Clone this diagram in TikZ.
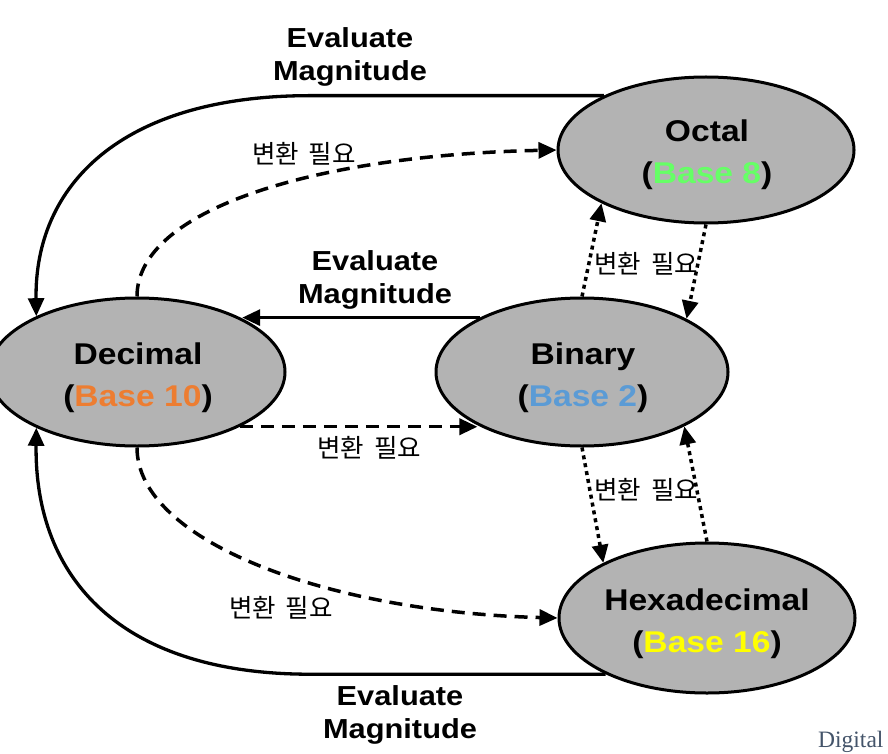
\documentclass[tikz,border=0pt]{standalone}
\usepackage{fontspec}
\setmainfont{Liberation Sans}
\newfontfamily\labfont{Liberation Sans}[FakeStretch=1.12]
\newfontfamily\krfont{Noto Sans CJK KR}
\newfontfamily\serfont{Liberation Serif}
\usetikzlibrary{shapes.geometric,arrows.meta}
\definecolor{ellfill}{HTML}{B3B3B3}
\definecolor{bten}{HTML}{ED7D31}
\definecolor{btwo}{HTML}{5B9BD5}
\definecolor{beight}{HTML}{66FF66}
\definecolor{bsixteen}{HTML}{FFFF00}
\definecolor{digc}{HTML}{44546A}
\newcommand{\krtext}{변환\hspace{10pt}필요}
\begin{document}
\begin{tikzpicture}[x=1pt,y=-1pt,
  basenode/.style={ellipse,draw=black,line width=3pt,fill=ellfill,inner sep=0pt},
  basetext/.style={align=center,inner sep=0pt,font=\labfont\bfseries\fontsize{30}{42}\selectfont},
  evlabel/.style={align=center,inner sep=0pt,font=\labfont\bfseries\fontsize{27.5}{33}\selectfont},
  krlabel/.style={inner sep=0pt,font=\krfont\fontsize{25.5}{30}\selectfont},
  conn/.style={line width=3.3pt,-{Triangle[length=18pt,width=16pt]}},
  dashconn/.style={conn,line width=3.5pt,dash pattern=on 13pt off 8pt},
  dotconn/.style={conn,line width=3.5pt,dash pattern=on 4pt off 4pt},
]
\useasboundingbox (0,0) rectangle (888,754);
\fill[white] (0,0) rectangle (888,754);

% ellipses
\node[basenode,minimum width=296pt,minimum height=148pt] (dec) at (137,372) {};
\node[basenode,minimum width=292pt,minimum height=148pt] (bin) at (582,372) {};
\node[basenode,minimum width=296pt,minimum height=146pt] (oct) at (706,150) {};
\node[basenode,minimum width=296pt,minimum height=150pt] (hex) at (707,618) {};

\node[basetext] (dect) at (138,378) {Decimal\\(\textcolor{bten}{Base 10})};
\node[basetext] (bint) at (583,378) {Binary\\(\textcolor{btwo}{Base 2})};
\node[basetext] (octt) at (707,155) {Octal\\(\textcolor{beight}{Base 8})};
\node[basetext] (hext) at (707,624) {Hexadecimal\\(\textcolor{bsixteen}{Base 16})};

% helper coordinate for where the outer curves start to bend
\coordinate (bend) at (310,0);

% outer solid connectors
\draw[conn] (oct.152) -- (oct.152 -| bend) .. controls +(-190,0) and +(-2,-130) .. (dec.151);
\draw[conn] (hex.209) -- (hex.209 -| bend) .. controls +(-190,0) and +(-2,150) .. (dec.209);

% middle solid and dashed
\draw[conn] (bin.152) -- (bin.152 -| dec.27);
\draw[dashconn] (dec.-28) -- (dec.-28 -| bin.207);

% outer dashed curves
\draw[dashconn] (dec.north) .. controls +(0,-88) and +(-238,5) .. (oct.west);
\draw[dashconn] (dec.south) .. controls +(0,94) and +(-229,-6) .. (hex.west);

% dotted connectors
\draw[dotconn] (bin.north) -- (oct.207);
\draw[dotconn] (oct.south) -- (bin.27);
\draw[dotconn] (bin.south) -- (hex.152);
\draw[dotconn] (hex.north) -- (bin.-28);

% labels
\node[evlabel] (evtop) at (350,57) {Evaluate\\Magnitude};
\node[evlabel] (evmid) at (375,280) {Evaluate\\Magnitude};
\node[evlabel] (evbot) at (400,715) {Evaluate\\Magnitude};

\node[krlabel] (krtop) at (304,154) {\krtext};
\node[krlabel] (krmid) at (369,448) {\krtext};
\node[krlabel] (krrt) at (646,264) {\krtext};
\node[krlabel] (krrb) at (646,490) {\krtext};
\node[krlabel] (krbl) at (281,608) {\krtext};

\node[anchor=base west,inner sep=0pt,text=digc,font=\serfont\fontsize{23.5}{28}\selectfont] (dig) at (818,747) {Digital};
\end{tikzpicture}
\end{document}
